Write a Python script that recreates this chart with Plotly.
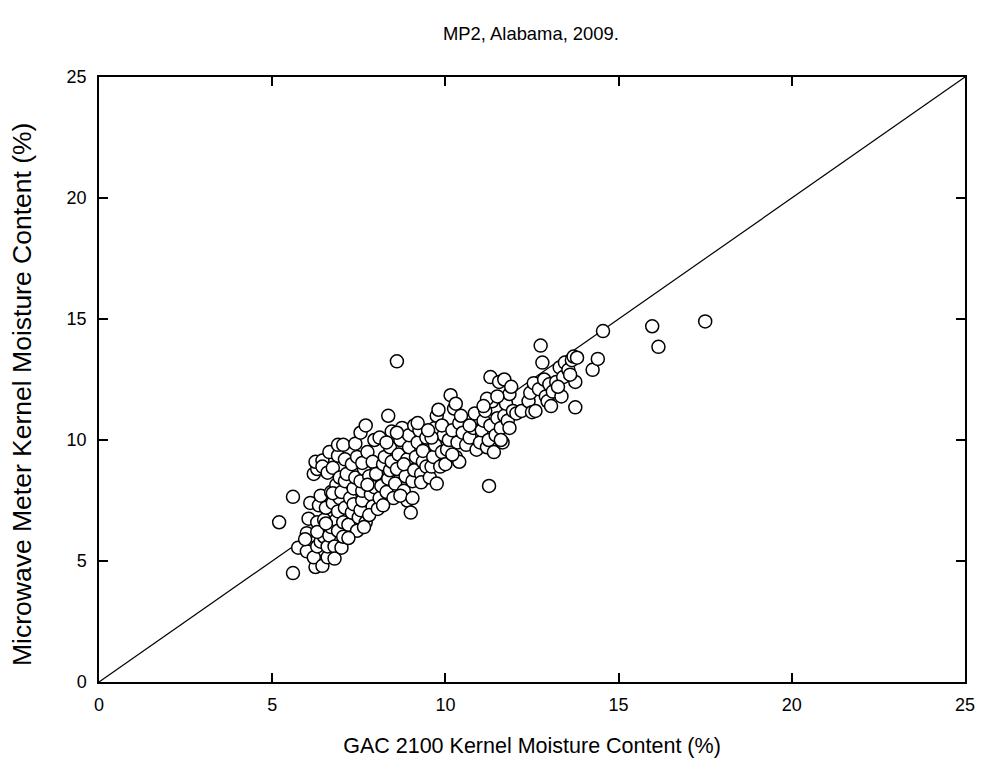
import plotly.graph_objects as go

gac = [5.2,5.6,5.6,5.75,6.0,6.0,6.05,6.1,5.95,
6.25,6.2,6.3,6.3,6.35,6.2,6.3,6.25,6.45,6.45,6.4,6.5,6.5,6.4,6.45,6.3,
6.6,6.6,6.65,6.7,6.55,6.75,6.7,6.6,6.75,6.65,6.9,6.9,6.8,6.85,6.9,6.95,6.85,6.95,6.8,6.55,6.9,6.75,
7.0,7.05,7.05,7.1,7.0,7.1,7.15,7.1,7.05,7.2,7.3,7.25,7.35,7.4,7.3,7.45,7.4,7.45,7.5,7.2,7.35,
7.55,7.6,7.6,7.55,7.65,7.6,7.55,7.7,7.75,7.8,7.85,7.7,7.9,7.95,7.9,7.95,7.8,7.65,7.75,
8.0,8.05,8.1,8.15,8.2,8.25,8.1,8.3,8.35,8.4,8.4,8.35,8.45,8.5,8.2,8.45,8.3,
8.6,8.55,8.6,8.65,8.7,8.75,8.8,8.85,8.9,8.95,8.9,9.0,8.7,8.8,8.95,8.6,
9.05,9.1,9.15,9.2,9.1,9.25,9.3,9.35,9.4,9.45,9.3,9.45,9.05,9.2,9.35,
9.55,9.6,9.65,9.7,9.7,9.75,9.8,9.85,9.9,9.95,9.6,9.75,9.9,9.5,
10.0,10.05,10.1,10.15,10.2,10.25,10.3,10.35,10.4,10.45,10.3,10.4,10.2,10.5,
10.6,10.7,10.8,10.9,10.95,10.7,10.85,
11.0,11.05,11.1,11.15,11.2,11.25,11.3,11.35,11.3,11.2,11.4,11.45,11.5,11.26,11.1,
11.55,11.6,11.65,11.7,11.7,11.75,11.8,11.85,11.9,11.95,11.6,11.85,11.5,
12.05,12.2,12.4,12.5,12.45,12.55,
12.6,12.75,12.8,12.7,12.85,12.9,12.95,13.0,
13.05,13.1,13.2,13.3,13.35,13.4,13.45,13.25,
13.55,13.65,13.7,13.75,13.75,13.8,13.6,
14.25,14.4,14.55,15.97,16.15,17.5]

mw = [6.6,7.65,4.5,5.55,5.4,6.15,6.75,7.4,5.9,
4.75,5.15,5.6,6.6,7.3,8.6,8.8,9.1,9.15,4.8,5.8,6.0,6.7,7.7,8.9,6.2,
5.15,5.6,6.05,6.4,7.2,7.4,7.85,8.65,8.85,9.5,9.35,9.8,5.6,6.7,7.05,7.6,8.15,8.45,5.1,6.55,6.25,7.8,
5.55,6.0,6.6,7.2,7.85,8.3,8.6,9.2,9.8,6.5,7.0,7.6,8.0,8.45,9.0,9.3,9.85,6.25,6.8,5.95,7.35,
7.1,7.5,7.9,8.3,8.8,9.05,10.3,10.6,9.5,8.5,7.75,6.6,7.25,8.05,9.1,10.0,6.9,6.4,8.15,
8.6,7.15,7.6,8.1,9.0,9.3,10.1,7.85,8.4,8.75,9.7,11.0,10.35,7.6,7.3,9.1,9.9,
13.25,8.2,8.8,9.4,10.0,10.5,7.9,8.5,9.2,9.7,7.5,7.0,7.7,9.0,10.2,10.3,
8.3,8.75,9.3,9.9,10.6,10.4,8.6,9.1,9.6,10.1,8.25,8.9,7.6,10.7,9.55,
8.45,8.9,9.3,9.8,10.5,11.0,11.25,8.9,9.5,10.2,10.1,8.2,10.6,10.4,
9.0,9.6,10.0,11.85,10.4,11.3,9.3,9.9,10.7,11.0,11.5,9.1,9.4,10.3,
9.8,10.1,10.5,9.6,10.9,10.6,11.1,
9.9,10.4,10.8,11.2,9.7,10.0,10.6,11.6,12.6,11.7,9.5,10.2,10.9,8.1,11.4,
12.4,10.5,9.9,11.0,12.5,11.5,10.8,11.9,12.2,11.2,10.0,10.5,11.8,
11.1,11.2,11.6,11.15,11.95,12.35,
11.2,13.9,13.2,12.1,12.5,11.8,11.6,12.3,
11.4,12.0,12.4,13.0,11.8,12.6,13.2,12.2,
12.9,13.3,13.45,12.4,11.35,13.4,12.7,
12.9,13.35,14.5,14.7,13.85,14.9]

line_x = [0, 25]
line_y = [0, 25]
ticks = [0, 5, 10, 15, 20, 25]

font_family = "Liberation Sans, Arial, sans-serif"

fig = go.Figure()
fig.add_trace(go.Scatter(x=line_x, y=line_y, mode="lines",
                         line=dict(color="black", width=1.2), showlegend=False,
                         hoverinfo="skip"))
fig.add_trace(go.Scatter(x=gac, y=mw, mode="markers",
                         marker=dict(symbol="circle", size=13, color="white",
                                     line=dict(color="black", width=1.5)),
                         showlegend=False))

axis_common = dict(range=[0, 25], tickvals=ticks, ticktext=[str(t) for t in ticks],
                   showline=True, linecolor="black", linewidth=1.5, mirror="ticks",
                   ticks="inside", ticklen=9, tickwidth=1.5, tickcolor="black",
                   showgrid=False, zeroline=False, automargin=False,
                   ticklabeloverflow="allow",
                   tickfont=dict(family=font_family, size=18, color="black"))

fig.update_layout(
    width=982, height=773,
    margin=dict(l=99, r=17, t=77, b=91),
    plot_bgcolor="white", paper_bgcolor="white",
    font=dict(family=font_family, color="black"),
    title=dict(text="MP2, Alabama, 2009.", x=0.5407, xanchor="center",
               y=0.957, yanchor="middle", automargin=False,
               font=dict(family=font_family, size=18.4, color="black")),
    xaxis=dict(**axis_common, ticklabelstandoff=6,
               title=dict(text="GAC 2100 Kernel Moisture Content (%)",
                          font=dict(family=font_family, size=21.5, color="black"),
                          standoff=24)),
    yaxis=dict(**axis_common, ticklabelstandoff=7),
    annotations=[dict(text="Microwave Meter Kernel Moisture Content (%)",
                      xref="paper", yref="paper", x=-0.0889, y=0.4744,
                      xanchor="center", yanchor="middle", textangle=-90,
                      showarrow=False,
                      font=dict(family=font_family, size=26.5, color="black"))],
)

fig.write_html("out.html", config={"displayModeBar": False},
               post_script="document.body.style.margin='0';")
